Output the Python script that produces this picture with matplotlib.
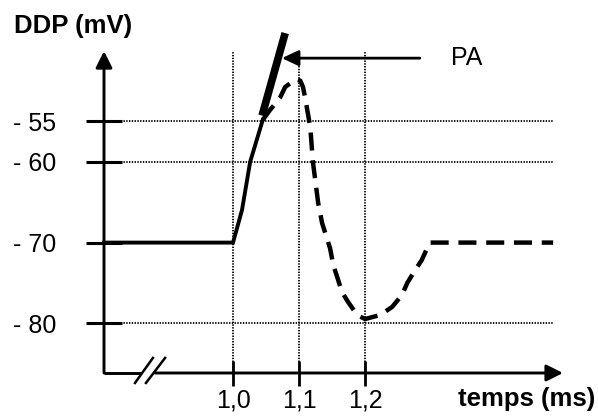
import matplotlib
matplotlib.use("Agg")
import matplotlib.pyplot as plt

plt.rcParams['font.family'] = ['Liberation Sans', 'DejaVu Sans']
plt.rcParams['lines.scale_dashes'] = False

# ---- data (time in ms, potential in mV) ----
x_ticks = [1.0, 1.1, 1.2]
x_tick_labels = ['1,0', '1,1', '1,2']
y_ticks = [-55, -60, -70, -80]
y_tick_labels = ['- 55', '- 60', '- 70', '- 80']

# resting potential + depolarisation (solid)
solid_t = [0.8045, 1.0, 1.0136, 1.026, 1.045]
solid_v = [-70, -70, -65.97, -60.0, -54.85]

# thick tangent line (action potential onset)
tangent_t = [1.044, 1.079]
tangent_v = [-54.3, -44.1]

# action potential (dashed)
dashed_t = [1.045, 1.056, 1.071, 1.079, 1.095, 1.102, 1.106, 1.109, 1.117,
            1.121, 1.129, 1.135, 1.142, 1.147, 1.152, 1.158, 1.165, 1.174,
            1.188, 1.200, 1.223, 1.241, 1.256, 1.264, 1.276, 1.286, 1.298,
            1.485]
dashed_v = [-54.85, -53.61, -52.13, -50.77, -49.8, -50.0, -50.77, -52.0,
            -55.7, -60.0, -65.1, -67.6, -69.4, -70.7, -72.8, -74.3, -76.1,
            -77.3, -78.95, -79.45, -78.95, -77.96, -76.48, -74.99, -73.39,
            -72.15, -70.0, -70.0]

pa_level = -47.2
pa_arrow_from = 1.283
pa_arrow_to = 1.074
pa_label = 'PA'

fig = plt.figure(figsize=(5.98, 4.16), dpi=100)
fig.patch.set_facecolor('white')
ax = fig.add_axes([104/598, 1-373/416, 449/598, 321/416])
ax.set_xlim(0.8045, 1.4848)
ax.set_ylim(-86.12, -46.44)
for s in ax.spines.values():
    s.set_visible(False)

ax.set_xticks(x_ticks)
ax.set_xticklabels(x_tick_labels)
ax.set_yticks(y_ticks)
ax.set_yticklabels(y_tick_labels)
ax.tick_params(axis='x', direction='inout', length=18, width=2, pad=2, labelsize=18)
ax.tick_params(axis='y', direction='inout', length=26.6, width=2.2, pad=21, labelsize=18)

ax.grid(True, color='black', linestyle=(0, (1.0, 1.0)), linewidth=1.3, zorder=1)
for tick in ax.yaxis.get_major_ticks():
    if abs(tick.get_loc() - (-70)) < 1e-9:
        tick.gridline.set_visible(False)
ax.set_axisbelow(True)

# axes with arrows and break
arrow_kw = dict(arrowstyle='-|>,head_length=10,head_width=5', mutation_scale=1,
                lw=2.1, color='black', shrinkA=0, shrinkB=0)
ax.annotate('', xy=(0, 1.003), xycoords='axes fraction', xytext=(0, 0),
            textcoords='axes fraction', arrowprops=arrow_kw, annotation_clip=False)
ax.annotate('', xy=(1.0223, 0), xycoords='axes fraction', xytext=(0.1136, 0),
            textcoords='axes fraction', arrowprops=arrow_kw, annotation_clip=False)
ax.plot([0, 0.0824], [0, 0], transform=ax.transAxes, color='black', lw=2.1,
        clip_on=False, solid_capstyle='butt')
ax.plot([0.069, 0.109], [-0.031, 0.047], transform=ax.transAxes, color='black',
        lw=1.8, clip_on=False)
ax.plot([0.0935, 0.136], [-0.031, 0.047], transform=ax.transAxes, color='black',
        lw=1.8, clip_on=False)

# curves
ax.plot(solid_t, solid_v, color='black', lw=2.8, clip_on=False, zorder=3,
        solid_joinstyle='miter')
ax.plot(dashed_t, dashed_v, color='black', lw=3.2, linestyle=(0, (13, 7)),
        clip_on=False, zorder=3, dash_capstyle='butt')
ax.plot(tangent_t, tangent_v, color='black', lw=5.5, clip_on=False, zorder=4,
        solid_capstyle='butt')

# PA arrow and label
ax.annotate('', xy=(pa_arrow_to, pa_level), xytext=(pa_arrow_from, pa_level),
            arrowprops=dict(arrowstyle='-|>,head_length=10,head_width=4.7',
                            mutation_scale=1, lw=2, color='black',
                            shrinkA=0, shrinkB=0),
            annotation_clip=False)
ax.text(1.330, pa_level, pa_label, fontsize=18, ha='left', va='center')

fig.text(14/598, 1-33/416, 'DDP (mV)', fontsize=18.5, fontweight='bold',
         ha='left', va='baseline')
fig.text(595/598, 1-406/416, 'temps (ms)', fontsize=18.5, fontweight='bold',
         ha='right', va='baseline')

fig.savefig('out.png', dpi=100, facecolor='white')
